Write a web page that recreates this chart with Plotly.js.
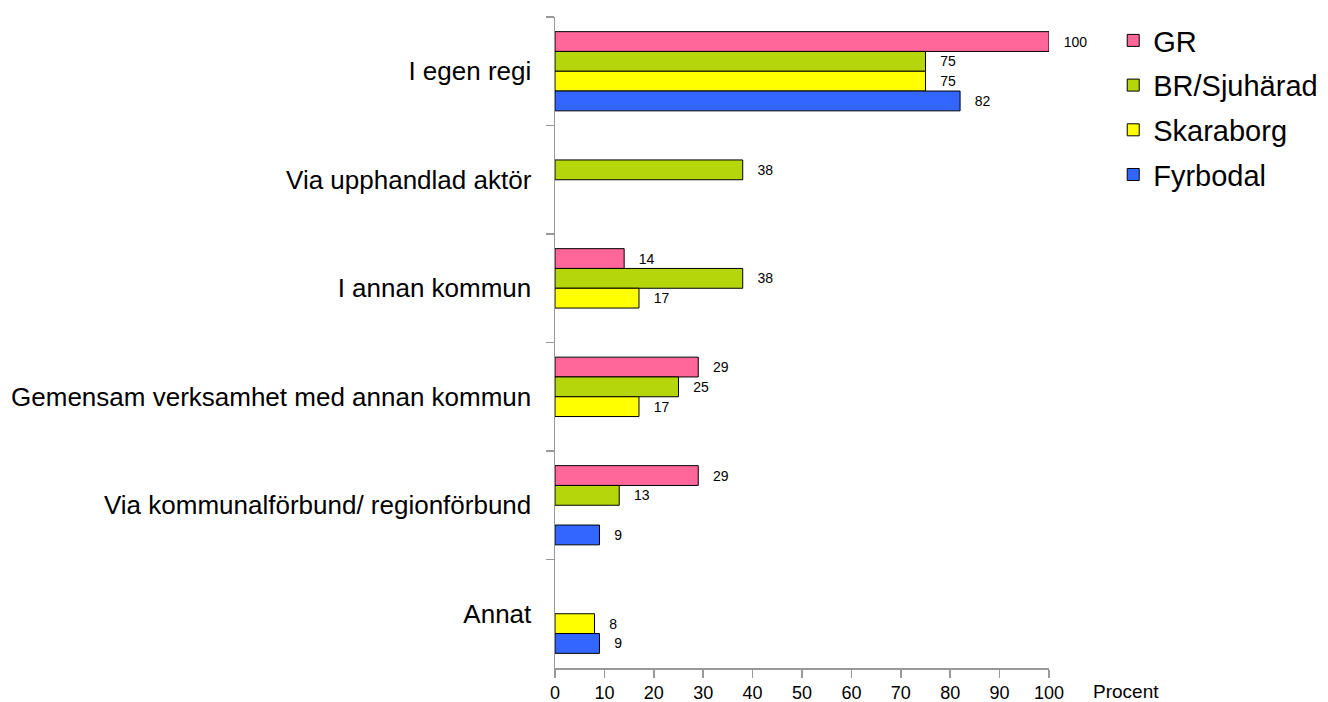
<!DOCTYPE html>
<html>
<head>
<meta charset="utf-8">
<script src="https://cdn.plot.ly/plotly-3.0.1.min.js"></script>
<style>html,body{margin:0;padding:0;background:#fff;}#chart{width:1328px;height:702px;}</style>
</head>
<body>
<div id="chart"></div>
<script>
const categories = ["I egen regi", "Via upphandlad aktör", "I annan kommun", "Gemensam verksamhet med annan kommun", "Via kommunalförbund/ regionförbund", "Annat"];
const seriesNames = ["GR", "BR/Sjuhärad", "Skaraborg", "Fyrbodal"];
const grValues = [100, null, 14, 29, 29, null];
const brValues = [75, 38, 38, 25, 13, null];
const skaraborgValues = [75, null, 17, 17, null, 8];
const fyrbodalValues = [82, null, null, null, 9, 9];
const xTicks = [0, 10, 20, 30, 40, 50, 60, 70, 80, 90, 100];
const axisLabel = "Procent";

const colors = ["#FF6699", "#B5D60A", "#FFFF00", "#3366FF"];
const allValues = [grValues, brValues, skaraborgValues, fyrbodalValues];

const traces = allValues.map((vals, i) => ({
  type: "bar",
  orientation: "h",
  name: seriesNames[i],
  legendgroup: "g" + i,
  y: categories,
  x: vals,
  marker: {color: colors[i], line: {color: "#000", width: 1}},
  texttemplate: "\u00a0\u00a0\u00a0%{x}",
  textposition: "outside",
  cliponaxis: false,
  textfont: {family: "Liberation Sans, Arial, sans-serif", size: 14, color: "#000"},
  hoverinfo: "x+y+name"
}));

const layout = {
  width: 1328, height: 702,
  margin: {l: 555, r: 279, t: 17, b: 34, autoexpand: false},
  paper_bgcolor: "#fff", plot_bgcolor: "#fff",
  font: {family: "Liberation Sans, Arial, sans-serif", color: "#000"},
  barmode: "group",
  bargap: 0.27,
  bargroupgap: 0,
  showlegend: true,
  legend: {
    x: 1.13, xanchor: "left", y: 1.003, yanchor: "top",
    font: {size: 29, color: "#000"},
    traceorder: "grouped",
    tracegroupgap: 4,
    itemclick: false
  },
  xaxis: {
    range: [0, 100], tickvals: xTicks, ticktext: xTicks.map(String),
    showgrid: false, zeroline: false,
    showline: true, linecolor: "#999", linewidth: 1.5,
    ticks: "outside", ticklen: 8, tickcolor: "#999", tickwidth: 1.5,
    tickfont: {size: 18, color: "#000"}
  },
  yaxis: {
    autorange: "reversed", type: "category",
    showgrid: false, zeroline: false,
    showline: true, linecolor: "#999", linewidth: 1.5,
    ticks: "outside", ticklen: 8, tickcolor: "#999", tickwidth: 1.5,
    tickson: "boundaries",
    ticklabelstandoff: 17,
    tickfont: {size: 26, color: "#000"}
  },
  annotations: [{
    text: axisLabel, xref: "paper", yref: "paper", x: 1.085, y: 0, xanchor: "left", yanchor: "top",
    yshift: -11, showarrow: false, font: {size: 19, color: "#000"}
  }]
};

Plotly.newPlot("chart", traces, layout, {displayModeBar: false, staticPlot: true});
</script>
</body>
</html>
